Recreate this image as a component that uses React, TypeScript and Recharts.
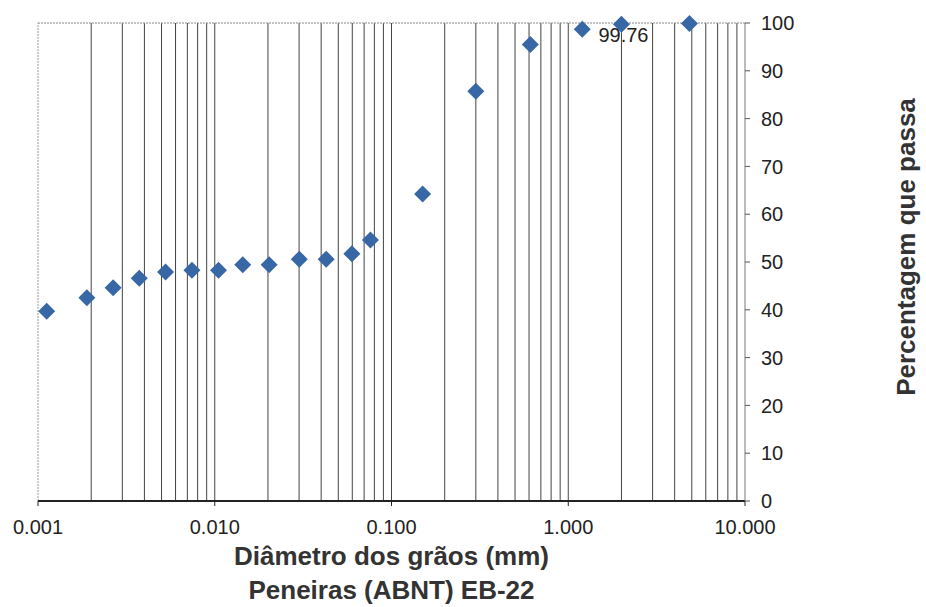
import { ScatterChart, Scatter, XAxis, YAxis, ReferenceLine, LabelList, Label } from 'recharts'

// grain size (mm) vs percent passing
const diametros = [
  0.00112, 0.00189, 0.00266, 0.00374, 0.00527, 0.00743, 0.0105, 0.0144, 0.0203,
  0.0301, 0.0427, 0.0597, 0.076, 0.15, 0.3, 0.61, 1.2, 2.0, 4.85,
]
const passantes = [
  39.7, 42.5, 44.6, 46.6, 47.9, 48.3, 48.3, 49.4, 49.4,
  50.6, 50.6, 51.7, 54.6, 64.2, 85.7, 95.5, 98.7, 99.76, 99.9,
]
const rotulos = ['', '', '', '', '', '', '', '', '', '', '', '', '', '', '', '', '', '99.76', '']

const xTicks = [0.001, 0.01, 0.1, 1, 10]
const yTicks = [0, 10, 20, 30, 40, 50, 60, 70, 80, 90, 100]
const decadas = [0.001, 0.01, 0.1, 1]
const multiplos = [2, 3, 4, 5, 6, 7, 8, 9]

const dados = diametros.map((d, i) => ({ d, p: passantes[i], label: rotulos[i] }))
const linhasGrade = [
  ...decadas.flatMap((dec) => multiplos.map((m) => +(dec * m).toPrecision(3))),
  0.01,
  0.1,
  1,
]

const FONT = '"Liberation Sans", Arial, sans-serif'
const AZUL = '#3867a6'

const Losango = (props: any) => {
  const { cx, cy } = props
  const r = 8.5
  return <path d={`M${cx},${cy - r}L${cx + r},${cy}L${cx},${cy + r}L${cx - r},${cy}Z`} fill={AZUL} />
}

const RotuloPonto = (props: any) => {
  const { x, y, width, height, value } = props
  if (!value) return null
  const cx = x + width / 2
  const cy = y + height / 2
  return (
    <text x={cx + 2} y={cy + 13} textAnchor="middle" dominantBaseline="middle" fontSize={20} fill="#222" fontFamily={FONT}>
      {value}
    </text>
  )
}

const TituloX = (props: any) => {
  const { viewBox } = props
  const cx = viewBox.x + viewBox.width / 2
  const y0 = viewBox.y
  return (
    <g fontFamily={FONT} fontSize={26} fontWeight="bold" fill="#333" textAnchor="middle">
      <text x={cx} y={y0 + 57} dominantBaseline="middle">Diâmetro dos grãos (mm)</text>
      <text x={cx} y={y0 + 91} dominantBaseline="middle">Peneiras (ABNT) EB-22</text>
    </g>
  )
}

const TituloY = (props: any) => {
  const { viewBox } = props
  const x = viewBox.x + 163
  const y = 247
  return (
    <text
      x={x}
      y={y}
      transform={`rotate(-90 ${x} ${y})`}
      textAnchor="middle"
      dominantBaseline="middle"
      fontFamily={FONT}
      fontSize={26}
      fontWeight="bold"
      fill="#333"
    >
      Percentagem que passa
    </text>
  )
}

export default function App() {
  return (
    <div style={{ position: 'absolute', left: 0, top: 0, background: '#fff' }}>
      <ScatterChart width={926} height={607} margin={{ top: 23, right: 121, left: 38, bottom: 76 }}>
        <XAxis
          type="number"
          dataKey="d"
          scale="log"
          domain={[0.001, 10]}
          ticks={xTicks}
          allowDataOverflow
          tickFormatter={(v: number) => v.toFixed(3)}
          tick={{ fontSize: 20, fill: '#222', fontFamily: FONT }}
          axisLine={{ stroke: '#222', strokeWidth: 2 }}
          tickLine={{ stroke: '#222' }}
          tickSize={5}
          tickMargin={14}
          height={30}
        >
          <Label content={<TituloX />} />
        </XAxis>
        <YAxis
          type="number"
          dataKey="p"
          orientation="right"
          domain={[0, 100]}
          ticks={yTicks}
          tick={{ fontSize: 20, fill: '#222', fontFamily: FONT, textAnchor: 'start' }}
          axisLine={{ stroke: '#777' }}
          tickLine={{ stroke: '#555' }}
          tickSize={5}
          tickMargin={11}
          width={60}
        >
          <Label content={<TituloY />} />
        </YAxis>
        {linhasGrade.map((v) => (
          <ReferenceLine key={v} x={v} stroke="#444" strokeWidth={1} />
        ))}
        <ReferenceLine x={0.001} stroke="#999" strokeDasharray="2 1" />
        <ReferenceLine y={100} stroke="#888" strokeDasharray="2 1" />
        <Scatter data={dados} shape={<Losango />} isAnimationActive={false}>
          <LabelList dataKey="label" content={<RotuloPonto />} />
        </Scatter>
      </ScatterChart>
    </div>
  )
}
